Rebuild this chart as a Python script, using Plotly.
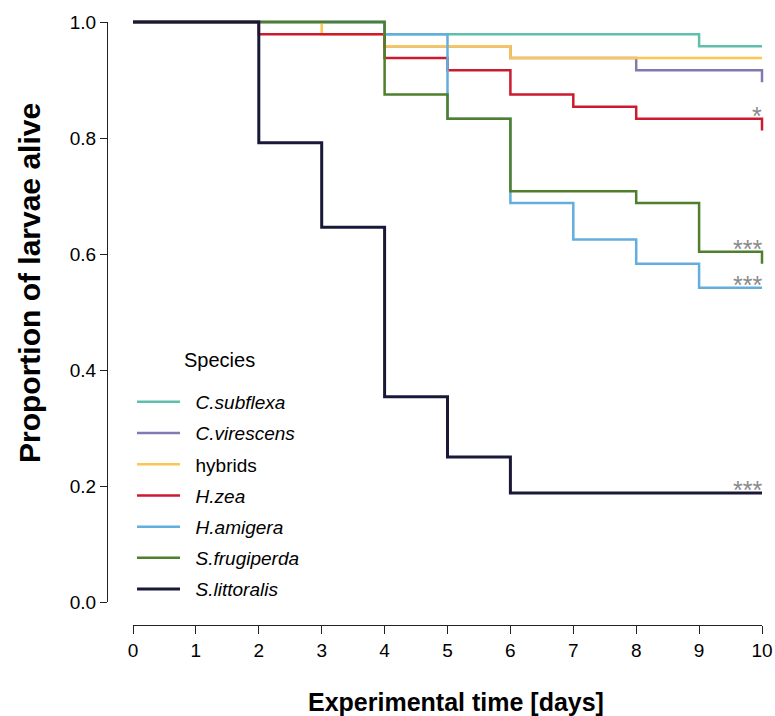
import plotly.graph_objects as go

# ---- data (days, proportion alive) ----
species = ["C.subflexa", "C.virescens", "hybrids", "H.zea", "H.amigera", "S.frugiperda", "S.littoralis"]
italic = [True, True, False, True, True, True, True]

t_subflexa = [0, 4, 9, 10]
s_subflexa = [1.0, 0.979, 0.958, 0.958]

t_virescens = [0, 4, 6, 8, 10]
s_virescens = [1.0, 0.958, 0.938, 0.917, 0.896]

t_hybrids = [0, 3, 4, 6, 10]
s_hybrids = [1.0, 0.979, 0.958, 0.938, 0.938]

t_zea = [0, 2, 4, 5, 6, 7, 8, 10]
s_zea = [1.0, 0.979, 0.938, 0.917, 0.875, 0.854, 0.833, 0.813]

t_amigera = [0, 4, 5, 6, 7, 8, 9, 10]
s_amigera = [1.0, 0.979, 0.833, 0.688, 0.625, 0.583, 0.542, 0.542]

t_frugiperda = [0, 4, 5, 6, 8, 9, 10]
s_frugiperda = [1.0, 0.875, 0.833, 0.708, 0.688, 0.604, 0.583]

t_littoralis = [0, 2, 3, 4, 5, 6, 10]
s_littoralis = [1.0, 0.792, 0.646, 0.354, 0.25, 0.188, 0.188]

times = [t_subflexa, t_virescens, t_hybrids, t_zea, t_amigera, t_frugiperda, t_littoralis]
surv = [s_subflexa, s_virescens, s_hybrids, s_zea, s_amigera, s_frugiperda, s_littoralis]

colors = ["#5FBFAC", "#8478B2", "#FCC650", "#CC1A2E", "#63AEDC", "#4F7E2C", "#1A1838"]
widths = [2.5, 2.5, 2.5, 2.5, 2.5, 2.5, 3]

# significance labels: (series index, label)
sig_series = [3, 5, 4, 6]
sig_labels = ["*", "***", "***", "***"]

x_ticks = list(range(0, 11))
y_ticks = [0.0, 0.2, 0.4, 0.6, 0.8, 1.0]

x_title = "Experimental time [days]"
y_title = "Proportion of larvae alive"
legend_title = "Species"

# ---- layout geometry (pixels) ----
W, H = 775, 716
X0PX, X10PX = 133, 762
Y1PX, Y0PX = 22, 602
YAX_PX = 107
XAX_PX = 625
pxu_x = (X10PX - X0PX) / 10.0
pxu_y = (Y0PX - Y1PX) / 1.0

FONT = "Liberation Sans, Arial, sans-serif"

fig = go.Figure()
for i, name in enumerate(species):
    label = ("&nbsp;&nbsp;" + (f"<i>{name}</i>" if italic[i] else name))
    fig.add_trace(go.Scatter(
        x=times[i], y=surv[i], mode="lines", line_shape="hv",
        line=dict(color=colors[i], width=widths[i]),
        name=label, legendgroup=name, xaxis="x", yaxis="y",
        hoverinfo="skip",
    ))

# invisible trace on the display axes so they render
fig.add_trace(go.Scatter(x=[0], y=[0], xaxis="x2", yaxis="y2", mode="markers",
                         marker=dict(opacity=0), showlegend=False, hoverinfo="skip"))

for idx, lab in zip(sig_series, sig_labels):
    fig.add_annotation(
        x=times[idx][-1], y=surv[idx][-2], xref="x", yref="y",
        text=lab, showarrow=False, xanchor="right", yanchor="middle",
        yshift=3, xshift=2,
        font=dict(family=FONT, size=25, color="#8A8A8A"),
    )

fig.add_annotation(
    x=182 / W, y=1 - 360 / H, xref="paper", yref="paper",
    text=legend_title, showarrow=False, xanchor="left", yanchor="middle",
    font=dict(family=FONT, size=20, color="black"),
)
fig.add_annotation(
    x=456 / W, y=1 - 702 / H, xref="paper", yref="paper",
    text=f"<b>{x_title}</b>", showarrow=False, xanchor="center", yanchor="middle",
    font=dict(family=FONT, size=25, color="black"),
)
fig.add_annotation(
    x=30 / W, y=1 - 283 / H, xref="paper", yref="paper", textangle=-90,
    text=f"<b>{y_title}</b>", showarrow=False, xanchor="center", yanchor="middle",
    font=dict(family=FONT, size=30, color="black"),
)

hidden = dict(showline=False, showticklabels=False, showgrid=False, zeroline=False,
              ticks="", automargin=False, fixedrange=True)

fig.update_layout(
    width=W, height=H,
    margin=dict(l=0, r=0, t=0, b=0),
    paper_bgcolor="white", plot_bgcolor="rgba(0,0,0,0)",
    font=dict(family=FONT, color="black"),
    xaxis=dict(domain=[YAX_PX / W, 1.0], anchor="y",
               range=[(YAX_PX - X0PX) / pxu_x, (W - X0PX) / pxu_x], **hidden),
    yaxis=dict(domain=[0.0, 1.0], anchor="x",
               range=[(Y0PX - H) / pxu_y, Y0PX / pxu_y], **hidden),
    xaxis2=dict(domain=[X0PX / W, X10PX / W], range=[0, 10],
                anchor="free", position=(H - XAX_PX) / H, side="bottom",
                showline=True, linecolor="#222", linewidth=1.3,
                ticks="outside", ticklen=8, tickwidth=1.3, tickcolor="#222",
                tickvals=x_ticks, ticktext=[str(v) for v in x_ticks],
                tickfont=dict(family=FONT, size=19, color="black"),
                showgrid=False, zeroline=False, automargin=False, fixedrange=True),
    yaxis2=dict(domain=[(H - Y0PX) / H, (H - Y1PX) / H], range=[0, 1],
                anchor="free", position=YAX_PX / W, side="left",
                showline=True, linecolor="#222", linewidth=1.3,
                ticks="outside", ticklen=7, tickwidth=1.3, tickcolor="#222",
                tickvals=y_ticks, ticktext=[f"{v:.1f}" for v in y_ticks],
                tickfont=dict(family=FONT, size=19, color="black"),
                showgrid=False, zeroline=False, automargin=False, fixedrange=True),
    legend=dict(x=132 / W, y=1 - 383 / H, xanchor="left", yanchor="top",
                bgcolor="rgba(0,0,0,0)", borderwidth=0, itemwidth=43,
                font=dict(family=FONT, size=19, color="black"),
                tracegroupgap=3.5, traceorder="grouped"),
    showlegend=True,
)

fig.write_html("out.html")
